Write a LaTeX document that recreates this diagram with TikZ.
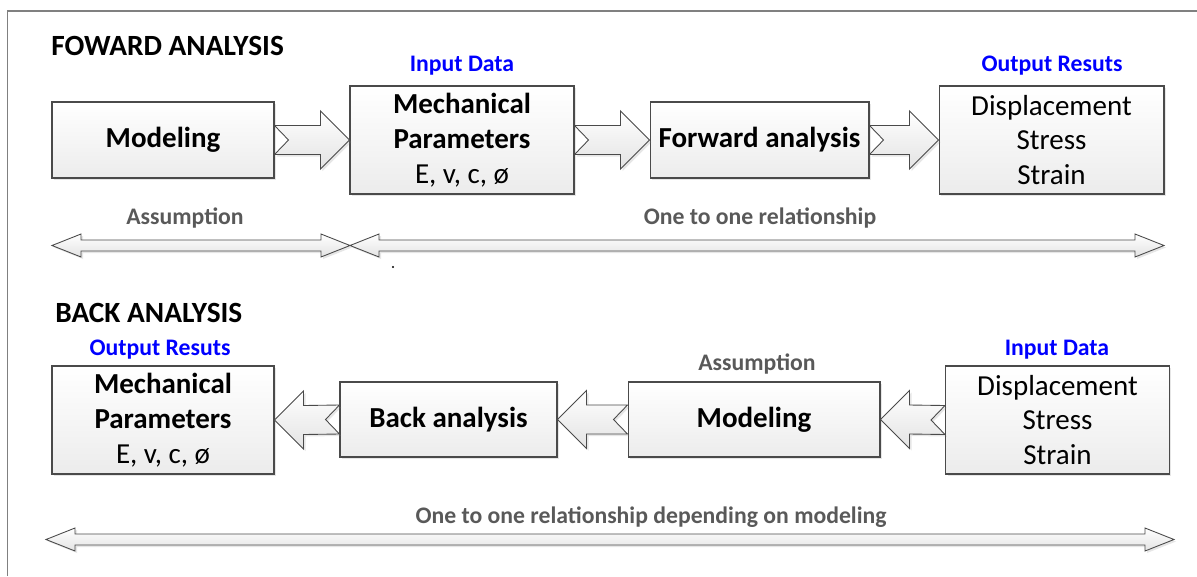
\documentclass[tikz,border=0pt]{standalone}
\usepackage{fontspec}
\setmainfont{Carlito}
\usetikzlibrary{calc,shadows}

\definecolor{labgray}{HTML}{595959}
\definecolor{edgegray}{HTML}{4A4A4A}
\definecolor{framegray}{HTML}{808080}

\tikzset{
  softshadow/.style={drop shadow={shadow xshift=0.04cm,shadow yshift=-0.04cm,opacity=0.2,fill=gray}},
  box/.style={draw=edgegray,line width=0.6pt,top color=white,bottom color=gray!15,softshadow,
    align=center,font=\fontsize{16.5}{19.9}\selectfont,inner sep=0pt},
  title/.style={font=\fontsize{16.7}{19}\selectfont\bfseries,inner sep=0pt,anchor=base west},
  tag/.style={font=\fontsize{13.5}{16}\selectfont\bfseries,text=blue,inner sep=0pt,anchor=base},
  note/.style={tag,text=labgray},
  blockarrow/.style={draw=edgegray,line width=0.5pt,top color=white,bottom color=gray!22,softshadow},
  thinarrow/.style={draw=edgegray,line width=0.5pt,top color=white,bottom color=gray!22,softshadow},
}

% notched block arrow: tail, tip, direction (1 right, -1 left)
\newcommand{\blockarr}[3]{%
  \path[blockarrow] ($(#1)+(0,-14.5)$) -- ($(#2)+(-29*#3,-14.5)$) -- ($(#2)+(-29*#3,-29)$) -- (#2)
    -- ($(#2)+(-29*#3,29)$) -- ($(#2)+(-29*#3,14.5)$) -- ($(#1)+(0,14.5)$) -- ($(#1)+(14*#3,0)$) -- cycle;}
% long double headed arrow: left tip, right tip
\newcommand{\longarr}[2]{%
  \path[thinarrow] (#1) -- ($(#1)+(29,-11.5)$) -- ($(#1)+(29,-5.5)$) -- ($(#2)+(-29,-5.5)$)
    -- ($(#2)+(-29,-11.5)$) -- (#2) -- ($(#2)+(-29,11.5)$) -- ($(#2)+(-29,5.5)$)
    -- ($(#1)+(29,5.5)$) -- ($(#1)+(29,11.5)$) -- cycle;}

\begin{document}
\begin{tikzpicture}[x=0.02cm,y=-0.02cm]
\useasboundingbox (0,0) rectangle (1197,576);
\draw[framegray,line width=0.8pt] (7.7,576) -- (7.7,11) -- (1197,11);

% forward analysis
\node[title] (ftitle) at (51,55) {FOWARD ANALYSIS};
\node[box,minimum width=4.44cm,minimum height=1.52cm] (fmod) at (163,140) {\textbf{Modeling}};
\node[box,minimum width=4.48cm,minimum height=2.16cm] (fmech) at (462,140) {\textbf{Mechanical}\\\textbf{Parameters}\\E, v, c, ø};
\node[box,minimum width=4.38cm,minimum height=1.52cm] (ffwd) at (759.5,140) {\textbf{Forward analysis}};
\node[box,minimum width=4.5cm,minimum height=2.16cm] (fout) at (1051.5,140) {Displacement\\Stress\\Strain};
\node[tag] (finp) at (462,71) {Input Data};
\node[tag] (fres) at (1052,71) {Output Resuts};
\node[note] (fass) at (185,224) {Assumption};
\node[note] (fone) at (760,224) {One to one relationship};

\blockarr{fmod.east}{fmech.west}{1}
\blockarr{fmech.east}{ffwd.west}{1}
\blockarr{ffwd.east}{fout.west}{1}

\coordinate (fa) at (52,245.5);
\coordinate (fb) at (350,245.5);
\coordinate (fc) at (1164,245.5);
\longarr{fa}{fb}
\longarr{fb}{fc}
\fill (393,267) circle (0.6pt);

% back analysis
\node[title] (btitle) at (55,322) {BACK ANALYSIS};
\node[box,minimum width=4.44cm,minimum height=2.16cm] (bmech) at (163,420) {\textbf{Mechanical}\\\textbf{Parameters}\\E, v, c, ø};
\node[box,minimum width=4.34cm,minimum height=1.5cm] (bback) at (448.5,419.5) {\textbf{Back analysis}};
\node[box,minimum width=5.04cm,minimum height=1.5cm] (bmod) at (754,419.5) {\textbf{Modeling}};
\node[box,minimum width=4.48cm,minimum height=2.16cm] (binp) at (1057.5,420) {Displacement\\Stress\\Strain};
\node[tag] (bres) at (160,355) {Output Resuts};
\node[note] (bass) at (757,370) {Assumption};
\node[tag] (bdat) at (1057,355) {Input Data};
\node[note] (bone) at (651,523) {One to one relationship depending on modeling};

\blockarr{bback.west}{bmech.east}{-1}
\blockarr{bmod.west}{bback.east}{-1}
\blockarr{binp.west}{bmod.east}{-1}

\coordinate (ba) at (46,539.5);
\coordinate (bb) at (1174,539.5);
\longarr{ba}{bb}
\end{tikzpicture}
\end{document}
